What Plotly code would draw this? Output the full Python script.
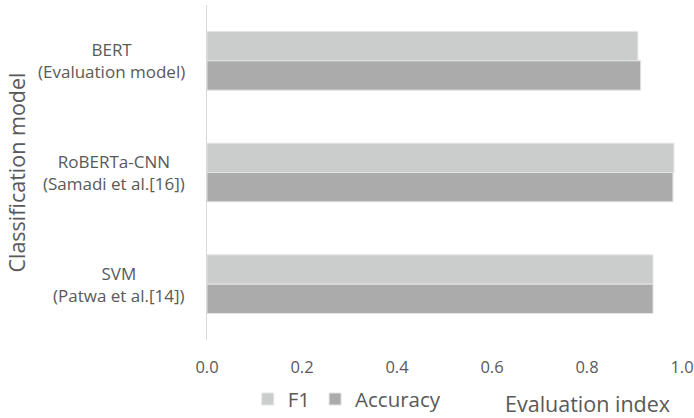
import plotly.graph_objects as go

# Models compared (top to bottom) and their scores
models = [
    "BERT<br>(Evaluation model)",
    "RoBERTa-CNN<br>(Samadi et al.[16])",
    "SVM<br>(Patwa et al.[14])",
]
f1_scores = [0.907, 0.983, 0.939]
accuracy_scores = [0.913, 0.981, 0.939]
x_ticks = [0.0, 0.2, 0.4, 0.6, 0.8, 1.0]

FONT = "Open Sans"
TEXT = "#595959"

fig = go.Figure()
fig.add_trace(go.Bar(
    name="F1", y=models, x=f1_scores, orientation="h",
    marker=dict(color="#cbcdcc", line=dict(color="#e4e4e4", width=1)),
))
fig.add_trace(go.Bar(
    name="Accuracy", y=models, x=accuracy_scores, orientation="h",
    marker=dict(color="#aaabaa", line=dict(color="#e4e4e4", width=1)),
))

# Category labels: two centred lines each, placed left of the axis
annotations = [
    dict(text=m, xref="paper", yref="y", x=-0.042, y=m,
         xanchor="right", yanchor="middle", align="center", showarrow=False,
         font=dict(size=17, color=TEXT))
    for m in models
]
annotations.append(dict(
    text="Classification model", xref="paper", yref="paper",
    x=-0.402, y=0.5, xanchor="center", yanchor="middle", textangle=-90,
    showarrow=False, font=dict(size=21.5, color=TEXT),
))
annotations.append(dict(
    text="Evaluation index", xref="paper", yref="paper",
    x=0.802, y=-0.191, xanchor="center", yanchor="middle", showarrow=False,
    font=dict(size=21.5, color=TEXT),
))

fig.update_layout(
    width=694, height=418,
    margin=dict(l=207, r=12, t=5, b=78, autoexpand=False),
    paper_bgcolor="white", plot_bgcolor="white",
    barmode="group", bargap=0.475, bargroupgap=0,
    font=dict(family=FONT, color=TEXT, size=16),
    showlegend=True,
    legend=dict(
        orientation="h", xref="container", yref="container",
        x=0.357, xanchor="left", y=0.045, yanchor="middle",
        font=dict(size=20.5, color=TEXT), itemwidth=30,
    ),
    xaxis=dict(
        range=[0, 1.0], tickvals=x_ticks, ticktext=[f"{v:.1f}" for v in x_ticks],
        showgrid=False, zeroline=False, showline=False, ticks="",
        tickfont=dict(size=16.5, color=TEXT), ticklabelstandoff=15,
        automargin=False,
    ),
    yaxis=dict(
        autorange="reversed", showgrid=False, zeroline=False,
        showline=True, linecolor="#d9d9d9", linewidth=1, ticks="",
        showticklabels=False, automargin=False,
    ),
    annotations=annotations,
)

fig.write_html("out.html")
